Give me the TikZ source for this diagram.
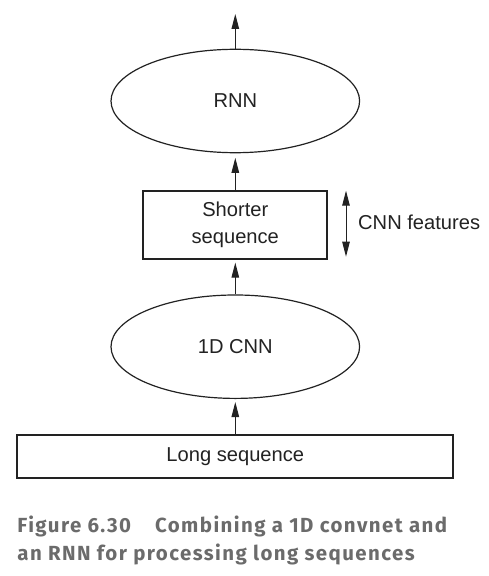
\documentclass[tikz,border=0pt]{standalone}
\usepackage{fontspec}
\setmainfont{Liberation Sans}
\newfontfamily\capfont[LetterSpace=7]{Fira Sans Bold}
\usetikzlibrary{shapes.geometric,arrows.meta,calc}
\definecolor{ink}{HTML}{222222}
\definecolor{capgray}{HTML}{6B6B6B}
\tikzset{
  lbl/.style={font=\fontsize{20.2}{26.5}\selectfont, text=ink, align=center, inner sep=0pt},
  oval/.style={ellipse, draw=ink, line width=1.2bp, inner sep=0pt, minimum width=248.6bp, minimum height=103.4bp, lbl},
  seqbox/.style={rectangle, draw=ink, line width=1.8bp, inner sep=0pt, lbl},
  flow/.style={draw=ink, line width=1bp, -{Triangle[length=15bp,width=7.5bp]}},
  both/.style={draw=ink, line width=1bp, {Triangle[length=15bp,width=7.5bp]}-{Triangle[length=15bp,width=7.5bp]}},
  captxt/.style={font=\capfont\fontsize{20.5}{28}\selectfont, text=capgray, inner sep=0pt, anchor=base west}
}
\begin{document}
\begin{tikzpicture}[x=1bp,y=-1bp]
\useasboundingbox (0,0) rectangle (489,576);
\node[oval] (rnn) at (235.3,101) {RNN};
\node[seqbox, minimum width=184bp, minimum height=68bp] (short) at (235.3,224.7) {Shorter\\sequence};
\node[oval] (cnn) at (235.3,346.7) {1D CNN};
\node[seqbox, minimum width=436bp, minimum height=42.7bp] (long) at (235.3,456.3) {Long sequence};
\coordinate (out) at (235.3,14);
\coordinate (ftop) at (346,190.7);
\coordinate (fbot) at (346,256.7);
\node[lbl, anchor=west] (feat) at (358,222.7) {CNN features};
\draw[flow] (rnn.north) -- (out);
\draw[flow, shorten >=4.5bp] (short.north) -- (rnn.south);
\draw[flow, shorten >=3bp] (cnn.north) -- (short.south);
\draw[flow, shorten >=3bp] (long.north) -- (cnn.south);
\draw[both] (ftop) -- (fbot);
\node[captxt] (cap1) at (17.3,532.3) {Figure 6.30\hspace{24bp}Combining a 1D convnet and};
\node[captxt] (cap2) at (17.3,560.3) {an RNN for processing long sequences};
\end{tikzpicture}
\end{document}
